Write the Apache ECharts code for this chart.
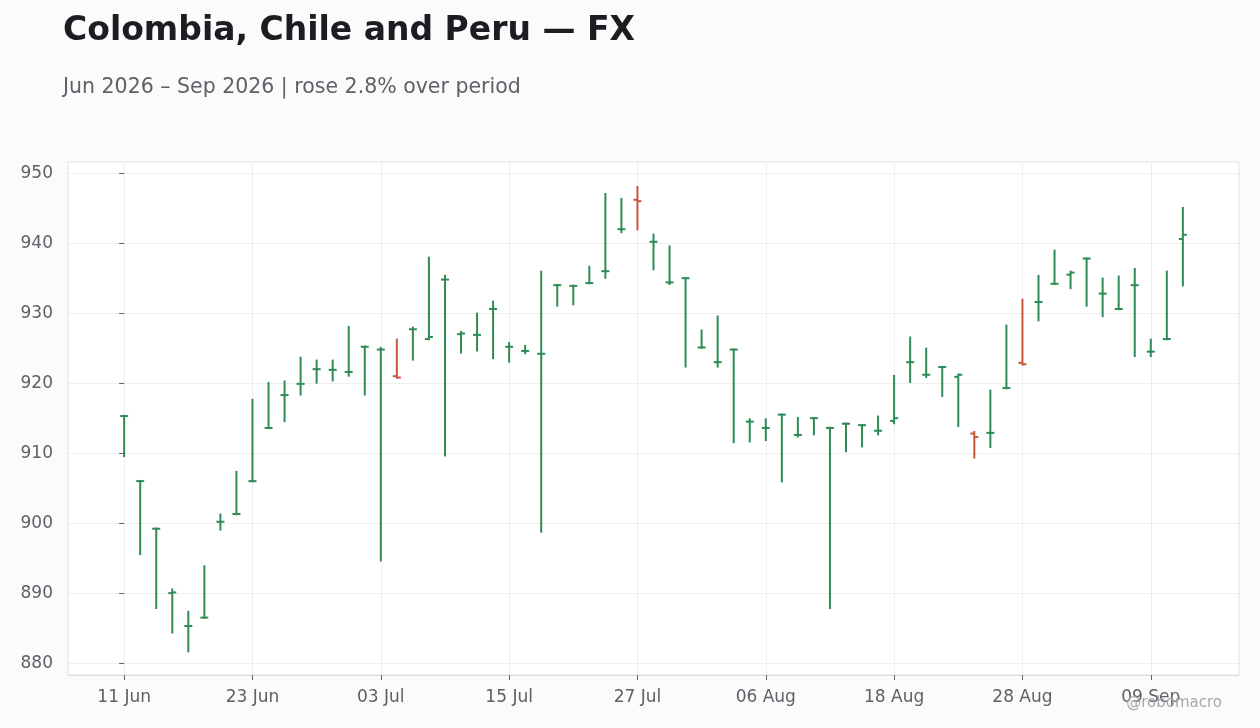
<!DOCTYPE html>
<html>
<head>
<meta charset="utf-8">
<script src="https://cdn.jsdelivr.net/npm/echarts@6/dist/echarts.min.js"></script>
<style>
  html, body { margin: 0; padding: 0; background: #fbfbfb; }
  #chart { width: 1260px; height: 728px; }
</style>
</head>
<body>
<div id="chart"></div>
<script>
// weekday sessions, Jun 11 - Sep 11 2026
const dates = [
  "11 Jun", "12 Jun", "15 Jun", "16 Jun", "17 Jun", "18 Jun", "19 Jun", "22 Jun", "23 Jun", "24 Jun",
  "25 Jun", "26 Jun", "29 Jun", "30 Jun", "01 Jul", "02 Jul", "03 Jul", "06 Jul", "07 Jul", "08 Jul",
  "09 Jul", "10 Jul", "13 Jul", "14 Jul", "15 Jul", "16 Jul", "17 Jul", "20 Jul", "21 Jul", "22 Jul",
  "23 Jul", "24 Jul", "27 Jul", "28 Jul", "29 Jul", "30 Jul", "31 Jul", "03 Aug", "04 Aug", "05 Aug",
  "06 Aug", "07 Aug", "10 Aug", "11 Aug", "12 Aug", "13 Aug", "14 Aug", "17 Aug", "18 Aug", "19 Aug",
  "20 Aug", "21 Aug", "24 Aug", "25 Aug", "26 Aug", "27 Aug", "28 Aug", "31 Aug", "01 Sep", "02 Sep",
  "03 Sep", "04 Sep", "07 Sep", "08 Sep", "09 Sep", "10 Sep", "11 Sep"
];

const open = [
  915.3, 906.0, 899.2, 890.0, 885.3, 886.5, 900.2, 901.3, 906.0, 913.6,
  918.3, 919.9, 922.0, 921.9, 921.6, 925.2, 924.8, 921.0, 927.7, 926.3,
  934.8, 927.0, 926.9, 930.6, 925.2, 924.6, 924.2, 934.0, 933.9, 934.3,
  936.0, 942.0, 946.2, 940.2, 934.4, 935.0, 925.1, 923.0, 924.8, 914.5,
  913.6, 915.5, 912.6, 915.0, 913.6, 914.2, 914.0, 913.2, 914.6, 923.0,
  921.2, 922.3, 920.9, 912.8, 912.9, 919.3, 922.9, 931.6, 934.2, 935.5,
  937.8, 932.8, 930.6, 934.0, 924.5, 926.3, 940.6
];

const high = [
  915.4, 906.1, 899.3, 890.6, 887.4, 893.9, 901.3, 907.4, 917.7, 920.1,
  920.3, 923.7, 923.3, 923.3, 928.1, 925.3, 925.1, 926.3, 928.0, 938.0,
  935.4, 927.4, 930.0, 931.7, 925.8, 925.4, 936.0, 934.1, 934.0, 936.7,
  947.1, 946.4, 948.1, 941.3, 939.6, 935.1, 927.6, 929.6, 924.9, 914.9,
  914.9, 915.6, 915.1, 915.1, 913.7, 914.3, 914.1, 915.3, 921.1, 926.6,
  925.0, 922.4, 921.3, 913.1, 919.0, 928.3, 932.0, 935.4, 939.0, 936.0,
  937.9, 935.0, 935.3, 936.4, 926.3, 936.0, 945.1
];

const low = [
  909.5, 895.5, 887.8, 884.3, 881.6, 886.4, 899.0, 901.2, 905.9, 913.5,
  914.5, 918.3, 920.0, 920.3, 921.0, 918.3, 894.6, 920.7, 923.3, 926.2,
  909.6, 924.3, 924.6, 923.5, 923.0, 924.2, 898.7, 931.0, 931.2, 934.2,
  935.0, 941.5, 941.9, 936.2, 934.1, 922.3, 925.0, 922.3, 911.5, 911.6,
  911.8, 905.9, 912.3, 912.6, 887.8, 910.2, 910.9, 912.6, 914.2, 920.1,
  920.8, 918.1, 913.8, 909.3, 910.8, 919.2, 922.6, 928.9, 934.1, 933.5,
  931.0, 929.5, 930.5, 923.8, 923.8, 926.2, 933.9
];

const close = [
  915.3, 906.0, 899.2, 890.1, 885.3, 886.5, 900.2, 901.3, 906.0, 913.6,
  918.3, 919.9, 922.0, 921.9, 921.6, 925.2, 924.8, 920.8, 927.7, 926.6,
  934.8, 927.1, 926.9, 930.6, 925.2, 924.6, 924.2, 934.0, 933.9, 934.3,
  936.0, 942.0, 946.0, 940.2, 934.4, 935.0, 925.1, 923.0, 924.8, 914.5,
  913.6, 915.5, 912.6, 915.0, 913.6, 914.2, 914.0, 913.2, 915.0, 923.0,
  921.2, 922.3, 921.2, 912.3, 912.9, 919.3, 922.7, 931.6, 934.2, 935.8,
  937.8, 932.8, 930.6, 934.0, 924.5, 926.3, 941.2
];

const labelIdx = [0, 8, 16, 24, 32, 40, 48, 56, 64];
const yTicks = [880, 890, 900, 910, 920, 930, 940, 950];

const UP = "#2e8b57";
const DOWN = "#c9573c";
const TEXT = "#5f6068";

const chart = echarts.init(document.getElementById("chart"));

const rows = dates.map((d, i) => [i, open[i], high[i], low[i], close[i]]);

function renderBar(params, api) {
  const x = api.value(0);
  const o = api.value(1), h = api.value(2), l = api.value(3), c = api.value(4);
  const pH = api.coord([x, h]);
  const pL = api.coord([x, l]);
  const pO = api.coord([x, o]);
  const pC = api.coord([x, c]);
  const color = c >= o ? UP : DOWN;
  const st = { stroke: color, lineWidth: 2 };
  const w = 4;
  return {
    type: "group",
    children: [
      { type: "line", shape: { x1: pH[0], y1: pH[1] - 0.5, x2: pL[0], y2: pL[1] + 0.5 }, style: st },
      { type: "line", shape: { x1: pO[0] - w, y1: pO[1], x2: pO[0], y2: pO[1] }, style: st },
      { type: "line", shape: { x1: pC[0], y1: pC[1], x2: pC[0] + w, y2: pC[1] }, style: st }
    ]
  };
}

chart.setOption({
  backgroundColor: "#fbfbfb",
  animation: false,
  textStyle: { fontFamily: "DejaVu Sans" },
  title: [
    {
      text: "Colombia, Chile and Peru — FX",
      left: 63, top: 15, padding: 0,
      textStyle: { fontFamily: "DejaVu Sans", fontWeight: "bold", fontSize: 33, color: "#1c1c22" }
    },
    {
      text: "Jun 2026 – Sep 2026 | rose 2.8% over period",
      left: 63, top: 77, padding: 0,
      textStyle: { fontFamily: "DejaVu Sans", fontWeight: "normal", fontSize: 20.5, color: TEXT }
    },
    {
      text: "@robomacro",
      right: 38, top: 696, padding: 0,
      textStyle: { fontFamily: "DejaVu Sans", fontWeight: "normal", fontSize: 15, color: "#a8a8ac" }
    }
  ],
  grid: {
    left: 68, right: 21, top: 162, bottom: 53,
    show: true, borderColor: "#e2e2e2", borderWidth: 1, backgroundColor: "#ffffff"
  },
  xAxis: {
    type: "value",
    min: -3.5, max: 69.5,
    axisLine: { show: true, lineStyle: { color: "#dcdcdc" } },
    axisTick: { show: true, length: 5, customValues: labelIdx, lineStyle: { color: TEXT } },
    axisLabel: {
      customValues: labelIdx,
      formatter: (v) => dates[Math.round(v)] || "",
      color: TEXT, fontSize: 17, margin: 14
    },
    splitLine: { show: true, lineStyle: { color: "#efefef" } }
  },
  yAxis: {
    type: "value",
    min: 878.3, max: 951.6,
    axisLine: { show: false },
    axisTick: { show: true, length: 5, customValues: yTicks, lineStyle: { color: TEXT } },
    axisLabel: { customValues: yTicks, color: TEXT, fontSize: 17, margin: 15 },
    splitLine: { show: true, lineStyle: { color: "#efefef" } }
  },
  series: [
    {
      type: "custom",
      renderItem: renderBar,
      encode: { x: 0, y: [1, 2, 3, 4] },
      data: rows
    }
  ]
});
</script>
</body>
</html>
